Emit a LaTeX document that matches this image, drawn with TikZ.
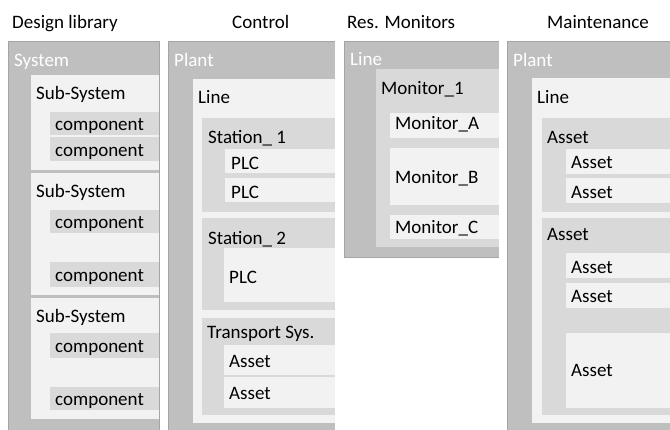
\documentclass[tikz,border=0pt]{standalone}
\usepackage{fontspec}
\setmainfont{Carlito}
\definecolor{outerg}{HTML}{BFBFBF}
\definecolor{midg}{HTML}{D9D9D9}
\definecolor{lightg}{HTML}{F2F2F2}
\definecolor{edgeg}{HTML}{A5A5A5}
\begin{document}
\begin{tikzpicture}[x=1pt,y=-1pt,
  outerbox/.style={fill=outerg},
  edge/.style={draw=edgeg,line width=0.9pt},
  midbox/.style={fill=midg},
  lightbox/.style={fill=lightg},
  txt/.style={anchor=base west,inner sep=0pt,font=\fontsize{19}{22}\selectfont,text=black},
  head/.style={txt,text=white},
  title/.style={txt,text=black}]
\useasboundingbox (0,0) rectangle (670,430);

% ---------- column titles ----------
\node[title] (tDesign) at (12,29) {Design library};
\node[title] (tControl) at (232,29) {Control};
\node[title] (tMon) at (347,29) {Res. Monitors};
\node[title] (tMaint) at (547,29) {Maintenance};

% ---------- Design library ----------
\fill[outerbox] (8,41) rectangle (159,432);
\fill[lightbox] (31,75) rectangle (159,170);
\fill[midbox] (50,112) rectangle (159,135);
\fill[midbox] (50,137) rectangle (159,161);
\fill[lightbox] (31,173) rectangle (159,295);
\fill[midbox] (50,210) rectangle (159,233);
\fill[midbox] (50,262) rectangle (159,287);
\fill[lightbox] (31,298) rectangle (159,419);
\fill[midbox] (50,333) rectangle (159,358);
\fill[midbox] (50,387) rectangle (159,410);
\draw[edge] (8,432) -- (8,41) -- (159,41) -- (159,432);
\node[head] (dSys) at (14,67) {System};
\node[txt] (dSub1) at (36,100) {Sub-System};
\node[txt] (dC1) at (55,131) {component};
\node[txt] (dC2) at (55,157) {component};
\node[txt] (dSub2) at (36,198) {Sub-System};
\node[txt] (dC3) at (55,229) {component};
\node[txt] (dC4) at (55,282) {component};
\node[txt] (dSub3) at (36,323) {Sub-System};
\node[txt] (dC5) at (55,353) {component};
\node[txt] (dC6) at (55,406) {component};

% ---------- Control ----------
\fill[outerbox] (168,41) rectangle (335,432);
\fill[lightbox] (193,79) rectangle (335,423);
\fill[midbox] (202,118) rectangle (335,212);
\fill[lightbox] (225,149) rectangle (335,173);
\fill[lightbox] (225,178) rectangle (335,202);
\fill[midbox] (202,218) rectangle (335,310);
\fill[lightbox] (224,248) rectangle (335,302);
\fill[midbox] (202,318) rectangle (335,415);
\fill[lightbox] (224,345) rectangle (335,375);
\fill[lightbox] (224,377) rectangle (335,408);
\draw[edge] (168,432) -- (168,41) -- (335,41);
\node[head] (cPlant) at (174,67) {Plant};
\node[txt] (cLine) at (198,104) {Line};
\node[txt] (cSt1) at (208,144) {Station\_ 1};
\node[txt] (cPLC1) at (231,170) {PLC};
\node[txt] (cPLC2) at (231,199) {PLC};
\node[txt] (cSt2) at (208,245) {Station\_ 2};
\node[txt] (cPLC3) at (229,284) {PLC};
\node[txt] (cTr) at (207,339) {Transport Sys.};
\node[txt] (cA1) at (229,368) {Asset};
\node[txt] (cA2) at (229,400) {Asset};

% ---------- Res. Monitors ----------
\fill[outerbox] (344,41) rectangle (499,257);
\fill[midbox] (376,69) rectangle (499,247);
\fill[lightbox] (390,113) rectangle (499,138);
\fill[lightbox] (390,148) rectangle (499,205);
\fill[lightbox] (390,215) rectangle (499,239);
\draw[edge] (344,257) -- (344,41) -- (499,41);
\draw[edge] (344,257) -- (499,257);
\node[head] (mLine) at (350,66) {Line};
\node[txt] (mM1) at (381,95) {Monitor\_1};
\node[txt] (mMA) at (395,130) {Monitor\_A};
\node[txt] (mMB) at (395,184) {Monitor\_B};
\node[txt] (mMC) at (395,234) {Monitor\_C};

% ---------- Maintenance ----------
\fill[outerbox] (507,41) rectangle (672,432);
\fill[lightbox] (532,78) rectangle (672,423);
\fill[midbox] (542,118) rectangle (672,212);
\fill[lightbox] (566,149) rectangle (672,174);
\fill[lightbox] (566,178) rectangle (672,203);
\fill[midbox] (542,218) rectangle (672,415);
\fill[lightbox] (566,253) rectangle (672,278);
\fill[lightbox] (566,283) rectangle (672,308);
\fill[lightbox] (566,333) rectangle (672,408);
\draw[edge] (507,432) -- (507,41) -- (672,41);
\node[head] (pPlant) at (513,67) {Plant};
\node[txt] (pLine) at (537,104) {Line};
\node[txt] (pG1) at (547,144) {Asset};
\node[txt] (pA1) at (571,169) {Asset};
\node[txt] (pA2) at (571,199) {Asset};
\node[txt] (pG2) at (547,241) {Asset};
\node[txt] (pA3) at (571,274) {Asset};
\node[txt] (pA4) at (571,303) {Asset};
\node[txt] (pA5) at (571,377) {Asset};
\end{tikzpicture}
\end{document}
